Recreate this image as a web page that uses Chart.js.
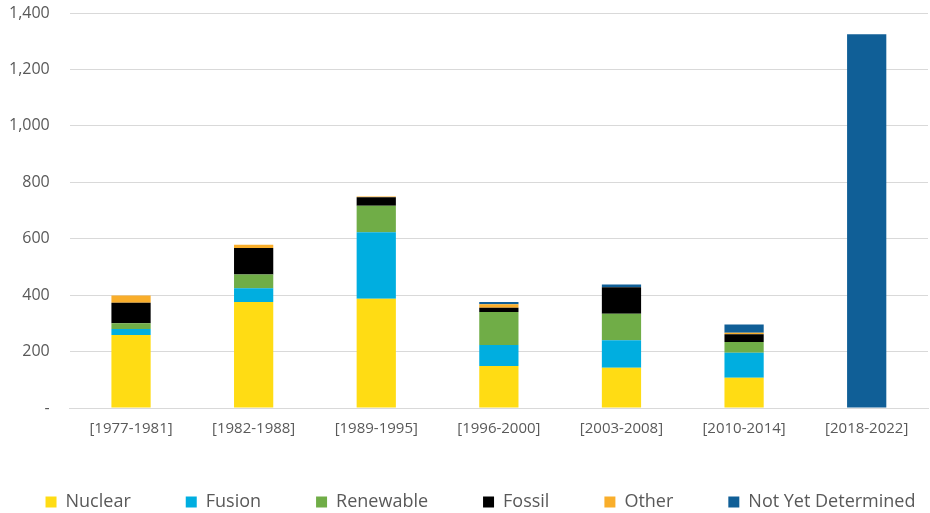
<!DOCTYPE html>
<html>
<head>
<meta charset="utf-8">
<script src="https://cdn.jsdelivr.net/npm/chart.js@4"></script>
<style>
  html, body { margin: 0; padding: 0; background: #fff; }
  #wrap { width: 930px; height: 513px; }
</style>
</head>
<body>
<div id="wrap"><canvas id="chart"></canvas></div>
<script>
// categories (year ranges)
const periods = ['[1977-1981]', '[1982-1988]', '[1989-1995]', '[1996-2000]', '[2003-2008]', '[2010-2014]', '[2018-2022]'];

// stacked values per energy type
const nuclear   = [259, 376, 387, 149, 143, 107, 0];
const fusion    = [21, 48, 236, 74, 97, 89, 0];
const renewable = [20, 49, 94, 117, 94, 38, 0];
const fossil    = [73, 94, 30, 15, 94, 27, 0];
const other     = [26, 12, 3, 13, 0, 6, 0];
const notYet    = [0, 0, 0, 8, 10, 29, 1325];

const yTicks = [0, 200, 400, 600, 800, 1000, 1200, 1400];

const textColor = '#595959';
const fontFamily = '"Open Sans", "Noto Sans", sans-serif';

function ds(label, data, color) {
    return {
        label: label,
        data: data,
        backgroundColor: color,
        borderWidth: 0,
        barPercentage: 0.64,
        categoryPercentage: 0.5
    };
}

// keep the legend on one row even with wide item spacing
const oneRowLegend = {
    id: 'oneRowLegend',
    afterInit(chart) {
        const legend = chart.legend;
        if (!legend) return;
        const origFit = legend.fit;
        const origDraw = legend.draw;
        legend.fit = function() {
            const mw = this.maxWidth;
            this.maxWidth = 5000;
            origFit.call(this);
            this.maxWidth = mw;
            this.width = mw;
        };
        legend.draw = function() {
            const r = this.right;
            const lw = this.lineWidths[0];
            this.right = r + 1000;
            this.lineWidths[0] = lw + 1000 - 44;  // nudge row a bit to the right
            origDraw.call(this);
            this.right = r;
            this.lineWidths[0] = lw;
        };
    }
};

document.addEventListener('DOMContentLoaded', function() {
    const ctx = document.getElementById('chart').getContext('2d');

    new Chart(ctx, {
        type: 'bar',
        data: {
            labels: periods,
            datasets: [
                ds('Nuclear', nuclear, '#FFDC14'),
                ds('Fusion', fusion, '#00AEE0'),
                ds('Renewable', renewable, '#70AD47'),
                ds('Fossil', fossil, '#000000'),
                ds('Other', other, '#F9AE2B'),
                ds('Not Yet Determined', notYet, '#105F97')
            ]
        },
        plugins: [oneRowLegend],
        options: {
            responsive: true,
            maintainAspectRatio: false,
            animation: false,
            layout: { padding: { left: -11, right: 2, top: 0, bottom: -8 } },
            plugins: {
                tooltip: { enabled: false },
                legend: {
                    position: 'bottom',
                    labels: {
                        color: textColor,
                        boxWidth: 11,
                        boxHeight: 11,
                        padding: 55,
                        font: { family: fontFamily, size: 18 }
                    }
                }
            },
            scales: {
                x: {
                    stacked: true,
                    grid: { display: false },
                    border: { color: '#d9d9d9' },
                    ticks: {
                        color: textColor,
                        font: { family: fontFamily, size: 15 },
                        padding: 4
                    },
                    afterFit(scale) { scale.height -= 4; }
                },
                y: {
                    stacked: true,
                    min: 0,
                    max: 1400,
                    afterBuildTicks(scale) {
                        scale.ticks = yTicks.map(v => ({ value: v }));
                    },
                    afterFit(scale) { scale.paddingTop = 13; },
                    grid: { color: '#d9d9d9', drawTicks: false },
                    border: { display: false },
                    ticks: {
                        color: textColor,
                        padding: 20,
                        font: { family: fontFamily, size: 16 },
                        callback: v => v === 0 ? '-' : v.toLocaleString('en-US')
                    }
                }
            }
        }
    });
});
</script>
</body>
</html>
